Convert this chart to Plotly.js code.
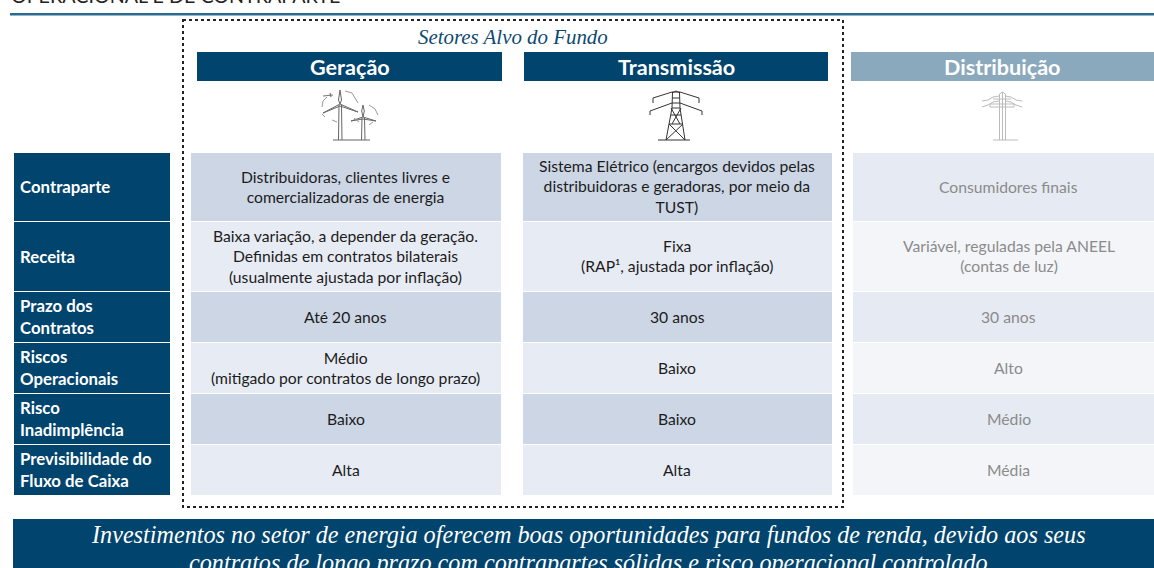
<!DOCTYPE html>
<html><head><meta charset="utf-8">
<script src="https://cdn.plot.ly/plotly-3.0.1.min.js"></script>
<style>html,body{margin:0;padding:0;background:#fff;overflow:hidden}#c{width:1154px;height:568px}</style>
</head><body><div id="c"></div>
<script>
// ---- content ----
const pageHeading = "OPERACIONAL E DE CONTRAPARTE";
const targetLabel = "Setores Alvo do Fundo";
const sectors = ["Geração", "Transmissão", "Distribuição"];
const rowLabels = ["Contraparte", "Receita", "Prazo dos<br>Contratos", "Riscos<br>Operacionais", "Risco<br>Inadimplência", "Previsibilidade do<br>Fluxo de Caixa"];
const geracao = ["Distribuidoras, clientes livres e<br>comercializadoras de energia",
  "Baixa variação, a depender da geração.<br>Definidas em contratos bilaterais<br>(usualmente ajustada por inflação)",
  "Até 20 anos", "Médio<br>(mitigado por contratos de longo prazo)", "Baixo", "Alta"];
const transmissao = ["Sistema Elétrico (encargos devidos pelas<br>distribuidoras e geradoras, por meio da<br>TUST)",
  "Fixa<br>(RAP¹, ajustada por inflação)", "30 anos", "Baixo", "Baixo", "Alta"];
const distribuicao = ["Consumidores finais", "Variável, reguladas pela ANEEL<br>(contas de luz)", "30 anos", "Alto", "Médio", "Média"];
const bannerLines = ["Investimentos no setor de energia oferecem boas oportunidades para fundos de renda, devido aos seus",
  "contratos de longo prazo com contrapartes sólidas e risco operacional controlado"];

// ---- page geometry (pixels of the 1154x568 frame) ----
const rowEdges = [[153,221],[222,291],[292,342],[343,393],[394,444],[445,495]];
const labelCol = [14,170];
const cellCols = [[191,501],[523,832],[853,1154]];
const cellTextCentres = [345.5,677,1008.5];
const headCols = [[197,502],[524,828],[851,1154]];
const headRow = [52,81];

// ---- palette ----
const NAVY="#01446d", RULE="#2c6b90", SOFTHEAD="#8aa9bd", CELL_A="#ccd6e5", CELL_B="#e7ebf3", CELL_C="#e6eaf2", CELL_D="#f3f5f9", GREY="#8b8b8b", INK="#1c1c1c";
const SANS="Lato, Carlito, sans-serif", SERIF="'Liberation Serif', serif";

const rect=(x0,x1,y0,y1,fill,line)=>({type:"rect",xref:"x",yref:"y",x0,x1,y0,y1,fillcolor:fill,line:line||{width:0},layer:"below"});
const note=(x,y,text,size,color,extra)=>Object.assign({x,y,xref:"x",yref:"y",text,showarrow:false,xanchor:"center",yanchor:"middle",font:{family:SANS,size,color},align:"center"},extra||{});

const shapes=[], annotations=[];
// heading and rule
annotations.push(note(9,1,pageHeading,19.7,"#222",{xanchor:"left",align:"left",yshift:6}));
shapes.push(Object.assign(rect(10,1154,13,15.5,RULE)));
// dotted frame
shapes.push({type:"rect",xref:"x",yref:"y",x0:183,x1:843,y0:20,y1:507,line:{color:"#222",width:2,dash:"dot"},fillcolor:"rgba(0,0,0,0)",layer:"below"});
annotations.push(note(513,36.5,targetLabel,20.9,"#0d4a72",{font:{family:SERIF,size:20.9,color:"#0d4a72",style:"italic"}}));
// sector heads
sectors.forEach((s,i)=>{
  const [a,b]=headCols[i];
  shapes.push(rect(a,b,headRow[0],headRow[1],i<2?NAVY:SOFTHEAD));
  annotations.push(note((a+b)/2,67,"<b>"+s+"</b>",21.6,"#fff"));
});
// row labels and cells
rowEdges.forEach((r,i)=>{
  const my=(r[0]+r[1])/2-0.5;
  shapes.push(rect(labelCol[0],labelCol[1],r[0],r[1],NAVY));
  annotations.push(note(18,my,"<b>"+rowLabels[i]+"</b>",16.8,"#fff",{xanchor:"left",align:"left"}));
  [geracao,transmissao,distribuicao].forEach((col,j)=>{
    const [a,b]=cellCols[j];
    const fill=j<2?(i%2?CELL_B:CELL_A):(i%2?CELL_D:CELL_C);
    shapes.push(rect(a,b,r[0],r[1],fill));
    annotations.push(note(cellTextCentres[j],my,col[i],15.7,j<2?INK:GREY));
  });
});
// banner
shapes.push(rect(13,1154,519,568,NAVY));
[534.5,562].forEach((y,i)=>annotations.push(note(588,y,bannerLines[i],24.2,"#fff",{font:{family:SERIF,size:24.2,color:"#fff",style:"italic"}})));

// ---- icons, as line traces ----
const windX=[333,370,null,338.5,339,null,341.5,342,null,361.5,362,null,364.5,365,null,
  340,323,340,null,340,358,340,null,340,338.5,340,341.5,340,null,
  363,351,363,null,363,376,363,null,363,361.7,363,364.3,363];
const windY=[140,140,null,140,105,null,105,140,null,140,118,null,118,140,null,
  104,113,106,null,104,112,106,null,104,100,90,100,104,null,
  117,121,119,null,117,121,119,null,117,111,105,111,117];
const windArcX=[322,323,327,null,345,352,358,null,322,325,null,369,375,378,null,332,337,null,354,359,null,369,373];
const windArcY=[107,101,97,null,91,93,103,null,114,117,null,105,109,115,null,120,122,null,118,122,null,125,122];
const vaneX=[323,333,null,330,331];
const vaneY=[96,95,null,93,97];
const towerX=[658,690,null,666,672,672.5,null,685,680,679.5,null,
  653,672,680,699,null,653,653,null,699,699,null,650,672,680,702,null,650,650,null,702,702,null,
  672,676,680,null,672,680,null,672,680,null,671,681,null,669,683,null,669,685,null,683,666,null,671,680,null,681,672];
const towerY=[140,140,null,140,108,92,null,140,108,92,null,
  98,92,92,98,null,98,103,null,98,103,null,111,103,103,111,null,111,115,null,111,115,null,
  93,91,93,null,98,98,null,108,108,null,115,115,null,124,124,null,124,140,null,124,140,null,108,124,null,108,124];
const poleX=[993,1018,null,999.5,999.5,1002.5,1005.5,1005.5,null,1002.5,1002.5,null,
  990,1014,1014,990,990,null,993,1011,null,
  982,988,993,999,null,1005,1011,1016,1022,null,982,988,993,999,null,1005,1011,1016,1022];
const poleY=[140,140,null,140,94,92,94,140,null,92,140,null,
  104,104,107,107,104,null,99,99,null,
  101,100,97,96,null,96,97,100,101,null,107,105,102,101,null,101,102,105,107];

const iconTrace=(x,y,color,width,dash)=>({type:"scatter",mode:"lines",x,y,hoverinfo:"skip",showlegend:false,connectgaps:false,line:{color,width,dash:dash||"solid",shape:"linear"}});
const traces=[
  iconTrace(windX,windY,"#666",1),
  iconTrace(windArcX,windArcY,"#999",1),
  iconTrace(vaneX,vaneY,"#777",1.2),
  iconTrace(towerX,towerY,"#333",1),
  iconTrace(poleX,poleY,"#bbb",1)
];

Plotly.newPlot("c",traces,{
  width:1154,height:568,margin:{l:0,r:0,t:0,b:0,pad:0},
  paper_bgcolor:"#fff",plot_bgcolor:"#fff",showlegend:false,
  xaxis:{range:[0,1154],visible:false,fixedrange:true},
  yaxis:{range:[568,0],visible:false,fixedrange:true},
  shapes,annotations
},{displayModeBar:false,staticPlot:true});
</script></body></html>
